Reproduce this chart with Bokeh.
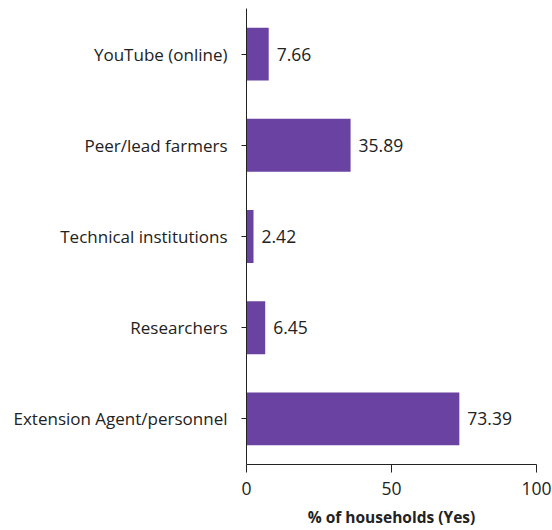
from bokeh.plotting import figure
from bokeh.models import ColumnDataSource, FactorRange, Range1d, FixedTicker, LabelSet
from bokeh.core.properties import value
from bokeh.embed import file_html
from bokeh.resources import INLINE

# Information sources used by households (% answering Yes)
sources = ["Extension Agent/personnel", "Researchers", "Technical institutions",
           "Peer/lead farmers", "YouTube (online)"]
percent_yes = [73.39, 6.45, 2.42, 35.89, 7.66]
x_ticks = [0, 50, 100]

FONT = "Open Sans"
BAR_COLOR = "#6a42a2"
TEXT = "#222222"

src = ColumnDataSource(dict(
    source=sources,
    pct=percent_yes,
    label=[f"{v:.2f}" for v in percent_yes],
))

p = figure(
    width=552, height=530,
    y_range=FactorRange(*sources, range_padding=0),
    x_range=Range1d(0, 100),
    output_backend="svg", toolbar_location=None,
    min_border_left=246, min_border_right=16,
    min_border_top=8, min_border_bottom=66,
)

p.hbar(y="source", right="pct", left=0, height=0.58, source=src,
       fill_color=BAR_COLOR, line_color=None)

labels = LabelSet(x="pct", y="source", text="label", source=src,
                  x_offset=8, text_baseline="middle", text_align="left",
                  text_font=value(FONT), text_font_size=value("17.5px"),
                  text_color=TEXT)
p.add_layout(labels)

p.outline_line_color = None
p.xgrid.visible = False
p.ygrid.visible = False
p.background_fill_color = "white"
p.border_fill_color = "white"

# x axis
p.xaxis.ticker = FixedTicker(ticks=x_ticks)
p.xaxis.axis_label = "% of households (Yes)"
p.xaxis.axis_label_text_font = FONT
p.xaxis.axis_label_text_font_style = "bold"
p.xaxis.axis_label_text_font_size = "15.5px"
p.xaxis.axis_label_text_color = TEXT
p.xaxis.axis_label_standoff = 8
p.xaxis.major_label_text_font = FONT
p.xaxis.major_label_text_font_size = "17.5px"
p.xaxis.major_label_text_color = TEXT
p.xaxis.major_tick_in = 0
p.xaxis.major_tick_out = 8
p.xaxis.minor_tick_line_color = None
p.xaxis.axis_line_color = TEXT
p.xaxis.major_tick_line_color = TEXT
p.xaxis.major_label_standoff = 9

# y axis
p.yaxis.major_label_text_font = FONT
p.yaxis.major_label_text_font_size = "17px"
p.yaxis.major_label_text_color = TEXT
p.yaxis.major_tick_in = 0
p.yaxis.major_tick_out = 5
p.yaxis.major_label_standoff = 14
p.yaxis.axis_line_color = TEXT
p.yaxis.major_tick_line_color = TEXT

open("out.html", "w").write(file_html(p, INLINE))
